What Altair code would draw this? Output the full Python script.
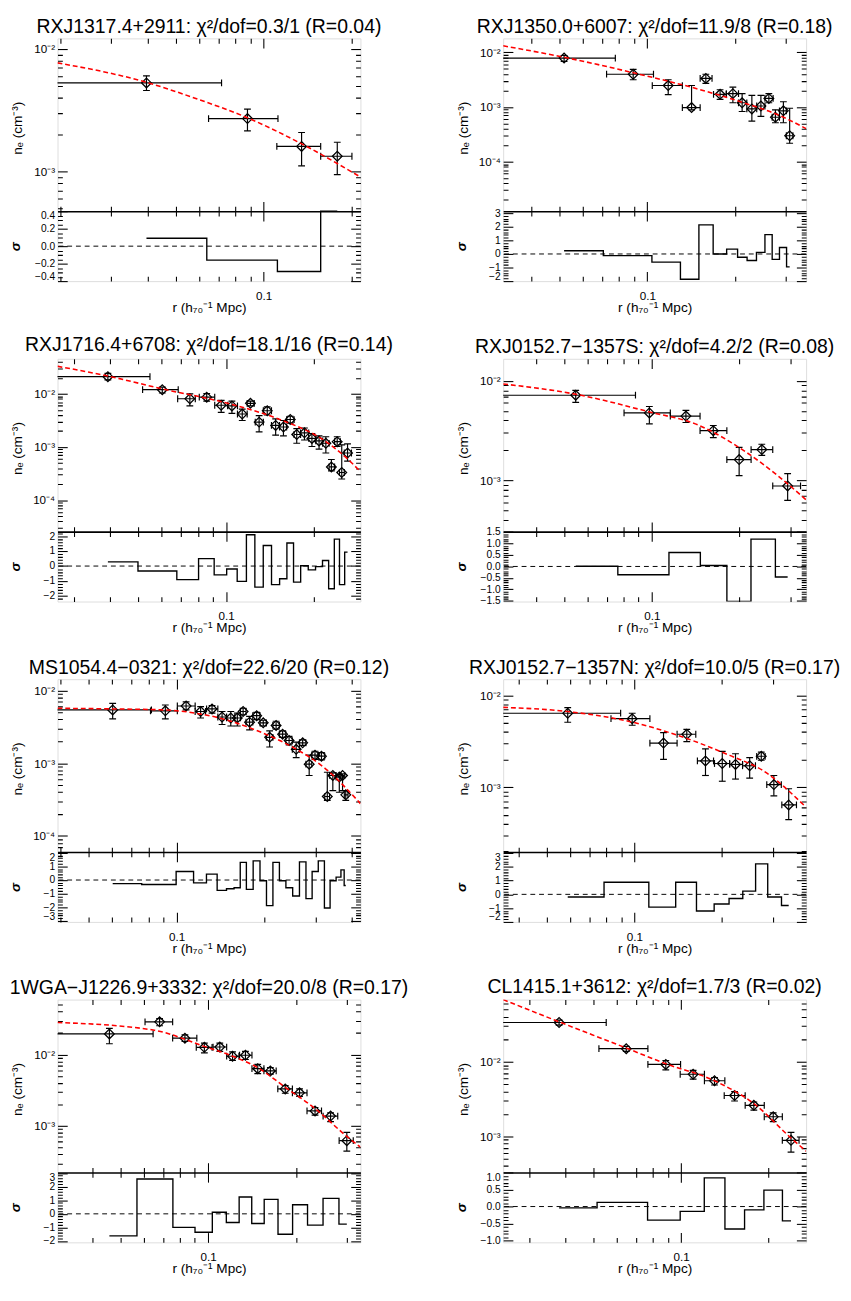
"""Gas density profiles of eight clusters: data, beta-model fit and residuals."""

import math

import altair as alt
import pandas as pd

FONT = "Liberation Sans"
INK = "black"
FIT_RED = "#ff0000"

W, TOP_H, RES_H = 312, 178, 72
H = TOP_H + RES_H
TICK = 10

# -- RXJ1317.4+2911 -----------------------------------------------------------
P1_TITLE = "RXJ1317.4+2911: χ²/dof=0.3/1 (R=0.04)"
P1_XDOM = [0.0196, 0.215]
P1_YDOM = [4.73e-4, 0.0122]
P1_SDOM = [-0.4, 0.4]
P1_STEP = [0.2, 0.05, ".1f", True]
P1_R = [0.0396, 0.0880, 0.135, 0.179]
P1_R_LO = [0.001, 0.0647, 0.111, 0.157]
P1_R_HI = [0.0717, 0.112, 0.157, 0.201]
P1_NE = [5.28e-3, 2.70e-3, 1.60e-3, 1.33e-3]
P1_NE_LO = [4.58e-3, 2.14e-3, 1.11e-3, 9.4e-4]
P1_NE_HI = [6.03e-3, 3.23e-3, 2.08e-3, 1.73e-3]
P1_SIG = [0.09, -0.16, -0.29, 0.6]
P1_FIT_R = [0.0196, 0.0396, 0.0585, 0.088, 0.135, 0.215]
P1_FIT_NE = [7.70e-3, 5.34e-3, 3.94e-3, 2.74e-3, 1.68e-3, 9.0e-4]

# -- RXJ1350.0+6007 -----------------------------------------------------------
P2_TITLE = "RXJ1350.0+6007: χ²/dof=11.9/8 (R=0.18)"
P2_XDOM = [0.0319, 0.352]
P2_YDOM = [1.24e-5, 0.0179]
P2_SDOM = [-2.0, 3.15]
P2_STEP = [1, 0.2, "d", True]
P2_R = [0.0517, 0.0894, 0.118, 0.142, 0.159, 0.178, 0.197, 0.212, 0.229, 0.246, 0.262, 0.276, 0.294, 0.309]
P2_R_LO = [0.001, 0.0724, 0.104, 0.132, 0.152, 0.169, 0.187, 0.206, 0.220, 0.238, 0.254, 0.269, 0.285, 0.301]
P2_R_HI = [0.0776, 0.105, 0.132, 0.152, 0.167, 0.187, 0.206, 0.220, 0.238, 0.254, 0.271, 0.285, 0.301, 0.317]
P2_NE = [7.82e-3, 3.96e-3, 2.46e-3, 9.73e-4, 3.32e-3, 1.70e-3, 1.75e-3, 1.19e-3, 9.2e-4, 1.04e-3, 1.43e-3, 6.47e-4, 8.49e-4, 2.97e-4]
P2_NE_LO = [6.8e-3, 3.14e-3, 1.68e-3, 8.85e-4, 2.70e-3, 1.37e-3, 1.19e-3, 8.26e-4, 5.5e-4, 6.73e-4, 1.19e-3, 5.13e-4, 5.13e-4, 2.17e-4]
P2_NE_HI = [8.7e-3, 4.85e-3, 3.14e-3, 2.46e-3, 3.96e-3, 2.06e-3, 2.30e-3, 1.75e-3, 1.63e-3, 1.63e-3, 1.75e-3, 8.85e-4, 1.245e-3, 9.46e-4]
P2_SIG = [0.24, -0.12, -0.6, -1.86, 2.14, 0.0, 0.36, -0.24, -0.48, 0.12, 1.43, -0.4, 0.48, -0.95]
P2_FIT_R = [0.0319, 0.0533, 0.0889, 0.148, 0.218, 0.281, 0.352]
P2_FIT_NE = [0.0131, 7.82e-3, 4.24e-3, 2.15e-3, 1.16e-3, 7.21e-4, 4.01e-4]

# -- RXJ1716.4+6708 -----------------------------------------------------------
P3_TITLE = "RXJ1716.4+6708: χ²/dof=18.1/16 (R=0.14)"
P3_XDOM = [0.0264, 0.289]
P3_YDOM = [2.55e-5, 0.0458]
P3_SDOM = [-2.37, 2.3]
P3_STEP = [1, 0.2, "d", True]
P3_R = [0.0393, 0.0604, 0.0751, 0.0858, 0.0962, 0.1047, 0.1136, 0.1212, 0.1298, 0.1384, 0.1479,
        0.1573, 0.166, 0.1747, 0.1857, 0.197, 0.2084, 0.2199, 0.2297, 0.2405, 0.2493, 0.261]
P3_R_LO = [0.001, 0.0517, 0.0682, 0.0809, 0.0914, 0.1013, 0.1094, 0.1181, 0.1259, 0.1342, 0.1431,
           0.1525, 0.1613, 0.1711, 0.1801, 0.192, 0.2031, 0.2144, 0.2256, 0.2356, 0.2449, 0.2544]
P3_R_HI = [0.0548, 0.0685, 0.0784, 0.0914, 0.1013, 0.1094, 0.1181, 0.1249, 0.1342, 0.1431, 0.1525,
           0.1613, 0.1711, 0.1801, 0.192, 0.2031, 0.2144, 0.2256, 0.2356, 0.2467, 0.2544, 0.2692]
P3_NE = [0.0211, 0.0120, 8.10e-3, 8.69e-3, 6.11e-3, 5.94e-3, 4.18e-3, 6.65e-3, 2.94e-3, 4.81e-3, 2.55e-3,
         2.38e-3, 3.29e-3, 1.72e-3, 1.845e-3, 1.45e-3, 1.30e-3, 1.175e-3, 4.21e-4, 1.26e-3, 3.31e-4, 7.71e-4]
P3_NE_LO = [0.0183, 0.0104, 5.94e-3, 7.33e-3, 4.48e-3, 4.30e-3, 3.15e-3, 5.94e-3, 1.925e-3, 4.00e-3, 1.67e-3,
            1.625e-3, 2.81e-3, 1.175e-3, 1.353e-3, 1.02e-3, 9.12e-4, 7.71e-4, 3.55e-4, 1.02e-3, 2.50e-4, 5.42e-4]
P3_NE_HI = [0.0243, 0.0134, 0.0100, 0.0101, 7.55e-3, 7.33e-3, 5.16e-3, 7.33e-3, 3.89e-3, 5.69e-3, 3.38e-3,
            3.15e-3, 3.79e-3, 2.22e-3, 2.28e-3, 1.795e-3, 1.625e-3, 1.56e-3, 5.81e-4, 1.56e-3, 1.097e-3, 1.143e-3]
P3_SIG = [0.28, -0.33, -0.91, 0.5, -0.59, -0.2, -1.02, 2.09, -1.41, 1.37, -1.24,
          -0.85, 1.54, -1.07, 0.02, -0.26, -0.04, 0.37, -1.52, 1.8, -1.24, 0.93]
P3_FIT_R = [0.0264, 0.0393, 0.0607, 0.1013, 0.1487, 0.2183, 0.2512, 0.289]
P3_FIT_NE = [0.0331, 0.0217, 0.01235, 6.65e-3, 3.48e-3, 1.30e-3, 7.18e-4, 3.45e-4]

# -- RXJ0152.7-1357S ----------------------------------------------------------
P4_TITLE = "RXJ0152.7−1357S: χ²/dof=4.2/2 (R=0.08)"
P4_XDOM = [0.0308, 0.339]
P4_YDOM = [3.07e-4, 0.0166]
P4_SDOM = [-1.53, 1.52]
P4_STEP = [0.5, 0.1, ".1f", False]
P4_R = [0.0547, 0.098, 0.1309, 0.1626, 0.1995, 0.2387, 0.2929]
P4_R_LO = [0.001, 0.0802, 0.1157, 0.1464, 0.181, 0.2193, 0.2603]
P4_R_HI = [0.0878, 0.1157, 0.1464, 0.181, 0.2193, 0.2603, 0.3244]
P4_NE = [7.16e-3, 4.76e-3, 4.42e-3, 3.16e-3, 1.62e-3, 2.04e-3, 8.81e-4]
P4_NE_LO = [6.08e-3, 3.70e-3, 3.81e-3, 2.69e-3, 1.118e-3, 1.786e-3, 6.31e-4]
P4_NE_HI = [8.0e-3, 5.52e-3, 5.05e-3, 3.56e-3, 2.15e-3, 2.31e-3, 1.17e-3]
P4_SIG = [0.01, -0.36, 0.61, 0.04, -1.6, 1.19, -0.46]
P4_FIT_R = [0.0308, 0.0547, 0.098, 0.1438, 0.211, 0.2726, 0.339]
P4_FIT_NE = [9.28e-3, 7.32e-3, 4.87e-3, 3.61e-3, 1.92e-3, 1.10e-3, 6.40e-4]

# -- MS1054.4-0321 ------------------------------------------------------------
P5_TITLE = "MS1054.4−0321: χ²/dof=22.6/20 (R=0.12)"
P5_XDOM = [0.039, 0.427]
P5_YDOM = [6.0e-5, 0.0143]
P5_SDOM = [-3.07, 2.05]
P5_STEP = [1, 0.2, "d", True]
P5_R = [0.0603, 0.0914, 0.1077, 0.1208, 0.1322, 0.1431, 0.1533, 0.1614, 0.169, 0.1778, 0.1881, 0.1981, 0.2084,
        0.2193, 0.2309, 0.243, 0.257, 0.2705, 0.2848, 0.2982, 0.3138, 0.3286, 0.3433, 0.3613, 0.3707, 0.3802]
P5_R_LO = [0.001, 0.0813, 0.1005, 0.1157, 0.1266, 0.1384, 0.1483, 0.158, 0.1655, 0.1729, 0.1824, 0.1931, 0.2031,
           0.2138, 0.225, 0.2368, 0.2493, 0.2637, 0.2776, 0.2907, 0.3059, 0.322, 0.3345, 0.3522, 0.3659, 0.3758]
P5_R_HI = [0.0819, 0.1005, 0.1157, 0.1256, 0.1384, 0.1483, 0.158, 0.1655, 0.1729, 0.1824, 0.1931, 0.2031, 0.2138,
           0.225, 0.2368, 0.2493, 0.2637, 0.2776, 0.2907, 0.3059, 0.322, 0.3345, 0.3522, 0.3659, 0.3773, 0.387]
P5_NE = [5.41e-3, 5.25e-3, 6.12e-3, 5.14e-3, 5.58e-3, 4.32e-3, 4.19e-3, 4.19e-3, 5.14e-3, 3.67e-3, 4.50e-3,
         3.59e-3, 2.27e-3, 3.31e-3, 2.51e-3, 2.05e-3, 1.55e-3, 1.905e-3, 9.70e-4, 1.29e-3, 1.25e-3, 3.48e-4,
         6.78e-4, 6.44e-4, 6.78e-4, 3.67e-4]
P5_NE_LO = [4.06e-3, 4.06e-3, 5.41e-3, 4.19e-3, 4.89e-3, 3.41e-3, 3.25e-3, 3.25e-3, 4.64e-3, 2.87e-3, 3.98e-3,
            3.25e-3, 1.67e-3, 2.93e-3, 2.27e-3, 1.79e-3, 1.19e-3, 1.755e-3, 6.78e-4, 1.13e-3, 1.11e-3, 3.08e-4,
            4.19e-4, 3.98e-4, 4.19e-4, 3.08e-4]
P5_NE_HI = [6.64e-3, 6.31e-3, 6.99e-3, 6.0e-3, 6.18e-3, 5.14e-3, 5.14e-3, 4.89e-3, 5.70e-3, 4.41e-3, 4.99e-3,
            3.90e-3, 2.78e-3, 3.78e-3, 2.78e-3, 2.34e-3, 1.945e-3, 2.09e-3, 1.29e-3, 1.46e-3, 1.40e-3, 7.51e-4,
            7.36e-4, 6.99e-4, 7.13e-4, 4.19e-4]
P5_SIG = [-0.26, -0.33, 0.62, -0.21, 0.43, -0.76, -0.64, -0.57, 1.29, -0.69, 1.4, -0.05, -1.88,
          1.29, -0.05, -0.57, -1.17, 1.33, -1.36, 0.62, 1.4, -2.05, -0.05, 0.21, 0.74, -0.4]
P5_FIT_R = [0.039, 0.0603, 0.0896, 0.1157, 0.1494, 0.1931, 0.2493, 0.322, 0.427]
P5_FIT_NE = [5.70e-3, 5.58e-3, 5.41e-3, 4.89e-3, 3.90e-3, 2.70e-3, 1.67e-3, 8.58e-4, 2.78e-4]

# -- RXJ0152.7-1357N ----------------------------------------------------------
P6_TITLE = "RXJ0152.7−1357N: χ²/dof=10.0/5 (R=0.17)"
P6_XDOM = [0.0353, 0.390]
P6_YDOM = [1.965e-4, 0.0150]
P6_SDOM = [-2.0, 3.07]
P6_STEP = [1, 0.2, "d", True]
P6_R = [0.0589, 0.0982, 0.1259, 0.1514, 0.1756, 0.2006, 0.2228, 0.2493, 0.2733, 0.302, 0.3397]
P6_R_LO = [0.001, 0.083, 0.113, 0.1402, 0.1647, 0.1886, 0.2127, 0.2356, 0.2636, 0.2855, 0.3217]
P6_R_HI = [0.0896, 0.113, 0.1402, 0.1626, 0.1872, 0.2127, 0.2356, 0.261, 0.2818, 0.3204, 0.3613]
P6_NE = [6.39e-3, 5.57e-3, 3.02e-3, 3.77e-3, 1.93e-3, 1.81e-3, 1.77e-3, 1.71e-3, 2.17e-3, 1.067e-3, 6.40e-4]
P6_NE_LO = [5.09e-3, 4.73e-3, 2.01e-3, 3.13e-3, 1.34e-3, 1.16e-3, 1.225e-3, 1.256e-3, 1.965e-3, 8.04e-4, 4.43e-4]
P6_NE_HI = [7.34e-3, 6.39e-3, 3.93e-3, 4.26e-3, 2.61e-3, 2.45e-3, 2.31e-3, 2.10e-3, 2.41e-3, 1.34e-3, 9.6e-4]
P6_SIG = [-0.19, 0.88, -0.93, 0.88, -1.21, -0.7, -0.3, 0.23, 2.21, -0.19, -0.81]
P6_FIT_R = [0.0353, 0.0589, 0.0987, 0.1449, 0.2127, 0.2747, 0.390]
P6_FIT_NE = [7.40e-3, 6.66e-3, 5.09e-3, 3.56e-3, 2.22e-3, 1.54e-3, 6.04e-4]

# -- 1WGA-J1226.9+3332 --------------------------------------------------------
P7_TITLE = "1WGA−J1226.9+3332: χ²/dof=20.0/8 (R=0.17)"
P7_XDOM = [0.0304, 0.333]
P7_YDOM = [2.23e-4, 0.0589]
P7_SDOM = [-2.1, 3.05]
P7_STEP = [1, 0.2, "d", True]
P7_R = [0.0458, 0.0681, 0.0832, 0.097, 0.1096, 0.1212, 0.1342, 0.1479, 0.1634, 0.1838, 0.2058, 0.2326, 0.263, 0.299]
P7_R_LO = [0.001, 0.0607, 0.0755, 0.091, 0.1039, 0.1157, 0.1281, 0.1413, 0.1553, 0.1733, 0.1945, 0.2183, 0.2479, 0.2814]
P7_R_HI = [0.0647, 0.0755, 0.0914, 0.1031, 0.1157, 0.1275, 0.1413, 0.1553, 0.1711, 0.1945, 0.2183, 0.2448, 0.2783, 0.3146]
P7_NE = [0.01945, 0.02875, 0.01696, 0.01262, 0.01275, 9.48e-3, 9.79e-3, 6.35e-3, 5.90e-3, 3.30e-3, 2.91e-3,
         1.625e-3, 1.373e-3, 6.22e-4]
P7_NE_LO = [0.01417, 0.02533, 0.01526, 0.01054, 0.01111, 8.27e-3, 8.53e-3, 5.42e-3, 5.31e-3, 2.87e-3, 2.59e-3,
            1.417e-3, 1.148e-3, 4.44e-4]
P7_NE_HI = [0.02328, 0.03197, 0.01884, 0.01447, 0.01447, 0.01088, 0.01111, 7.29e-3, 6.55e-3, 3.67e-3, 3.30e-3,
            1.81e-3, 1.526e-3, 8.1e-4]
P7_SIG = [-1.62, 2.57, -1.0, -1.36, 0.12, -0.64, 1.24, -0.71, 1.07, -1.5, 0.67, -0.83, 1.14, -0.76]
P7_FIT_R = [0.0304, 0.0647, 0.097, 0.1212, 0.1479, 0.1838, 0.2326, 0.299, 0.333]
P7_FIT_NE = [0.02815, 0.02208, 0.01302, 9.48e-3, 6.55e-3, 3.48e-3, 1.75e-3, 7.13e-4, 5.04e-4]

# -- CL1415.1+3612 ------------------------------------------------------------
P8_TITLE = "CL1415.1+3612: χ²/dof=1.7/3 (R=0.02)"
P8_XDOM = [0.0244, 0.269]
P8_YDOM = [3.29e-4, 0.0681]
P8_SDOM = [-1.05, 1.0]
P8_STEP = [0.5, 0.1, ".1f", True]
P8_R = [0.038, 0.0647, 0.0885, 0.1099, 0.1302, 0.1526, 0.1778, 0.2073, 0.2387]
P8_R_LO = [0.001, 0.0521, 0.0768, 0.0992, 0.1202, 0.1406, 0.166, 0.1931, 0.2228]
P8_R_HI = [0.0552, 0.0768, 0.0995, 0.1202, 0.1413, 0.166, 0.1931, 0.2228, 0.2544]
P8_NE = [0.0336, 0.01497, 9.22e-3, 6.81e-3, 5.57e-3, 3.53e-3, 2.61e-3, 1.833e-3, 8.86e-4]
P8_NE_LO = [0.031, 0.01381, 7.77e-3, 5.85e-3, 4.88e-3, 2.98e-3, 2.245e-3, 1.575e-3, 6.16e-4]
P8_NE_HI = [0.0361, 0.01607, 0.0104, 7.69e-3, 6.16e-3, 3.99e-3, 2.89e-3, 2.07e-3, 1.13e-3]
P8_SIG = [-0.04, 0.12, -0.4, -0.14, 0.84, -0.66, -0.1, 0.48, -0.42]
P8_FIT_R = [0.0244, 0.038, 0.0647, 0.0885, 0.1302, 0.1778, 0.2387, 0.269]
P8_FIT_NE = [0.0681, 0.0343, 0.01528, 9.41e-3, 5.57e-3, 2.75e-3, 9.51e-4, 6.35e-4]


LOG_L = "(log(datum.value) / LN10)"
LOG_MAJOR = f"abs({LOG_L} - round({LOG_L})) < 1e-6"
LOG_LABEL = f"{LOG_MAJOR} ? '10⁻' + ['⁰','¹','²','³','⁴','⁵','⁶'][-round({LOG_L})] : ''"
X_MAJOR = "abs(datum.value - 0.1) < 1e-6"


def log_ticks(lo, hi):
    vals = []
    for e in range(-6, 1):
        for m in range(1, 10):
            v = round(m * 10.0 ** e, 12)
            if lo <= v <= hi:
                vals.append(v)
    return vals


def lin_ticks(lo, hi, step):
    k0 = math.ceil(lo / step - 1e-9)
    k1 = math.floor(hi / step + 1e-9)
    return [round(k * step, 6) + 0.0 for k in range(k0, k1 + 1)]


def dash(test, inner=False):
    # IDL-style ticks: major ticks full length, minor ticks half length,
    # always touching the frame line
    minor = [TICK / 2, 3 * TICK] if inner else [0, TICK / 2, TICK / 2]
    return {"condition": {"test": test, "value": [TICK, 0]}, "value": minor}


def frame_axis(orient, offset, values, test, inner=False, **kw):
    opts = dict(orient=orient, offset=offset, values=values, tickSize=TICK,
                tickDash=dash(test, inner), tickColor=INK, tickWidth=1.1,
                domain=False, grid=False, labels=False, minExtent=0)
    opts.update(kw)
    return alt.Axis(**opts)


def panel(title, xdom, ydom, sdom, step, r, r_lo, r_hi, ne, ne_lo, ne_hi, sig, fit_r, fit_ne):
    major, minor, fmt, flush = step
    pts = pd.DataFrame(dict(r=r, rlo=r_lo, rhi=r_hi, ne=ne, nelo=ne_lo, nehi=ne_hi))
    fit = pd.DataFrame(dict(fr=fit_r, fne=fit_ne))
    # IDL psym=10 histogram: transitions half way between neighbouring radii
    mids = [(a + b) / 2 for a, b in zip(r[:-1], r[1:])]
    steps = pd.DataFrame(dict(sx=[r[0]] + mids + [r[-1]], sy=list(sig) + [sig[-1]]))
    steps["i"] = range(len(steps))
    zero = pd.DataFrame(dict(z=[0.0]))

    xs = alt.Scale(type="log", domain=xdom, nice=False)
    ys = alt.Scale(type="log", domain=ydom, range=[TOP_H, 0], nice=False)
    ss = alt.Scale(domain=sdom, range=[H, TOP_H], nice=False, zero=False, clamp=True)

    xt = log_ticks(*xdom)
    yt = log_ticks(*ydom)
    st = lin_ticks(sdom[0], sdom[1], minor)
    s_major = f"abs(datum.value / {major} - round(datum.value / {major})) < 1e-6"

    lab = dict(labels=True, labelFont=FONT, labelColor=INK, labelOverlap=False)
    ttl = dict(titleFont=FONT, titleColor=INK, titleBaseline="alphabetic")

    x_bottom = frame_axis("bottom", -TICK, xt, X_MAJOR, labelExpr=f"{X_MAJOR} ? '0.1' : ''",
                          labelPadding=10, labelFlush=False, labelFontSize=12,
                          title="r (h₇₀⁻¹ Mpc)", titleFontSize=14, titleFontWeight="normal",
                          titleX=W / 2, titleY=31 + TICK, **lab, **ttl)
    x_top = frame_axis("top", -TICK, xt, X_MAJOR)
    x_sep_low = frame_axis("bottom", -RES_H, xt, X_MAJOR, inner=True, domain=True,
                           domainColor=INK, domainWidth=1.6)
    x_sep_up = frame_axis("top", -TOP_H, xt, X_MAJOR, inner=True)

    y_left = frame_axis("left", -TICK, yt, LOG_MAJOR, labelExpr=LOG_LABEL, labelPadding=3,
                        labelFlush=False, labelFontSize=12, title="nₑ (cm⁻³)",
                        titleFontSize=14, titleFontWeight="normal", titleX=-47, titleY=92,
                        **lab, **ttl)
    y_right = frame_axis("right", -TICK, yt, LOG_MAJOR)
    s_left = frame_axis("left", -TICK, st, s_major,
                        labelExpr=f"{s_major} ? format(datum.value, '{fmt}') : ''",
                        labelPadding=3, labelFlush=flush, labelFontSize=10.5, title="σ",
                        titleFontSize=14, titleFontStyle="italic", titleFontWeight="bold",
                        titleX=-49, titleY=TOP_H + RES_H / 2, **lab, **ttl)
    s_right = frame_axis("right", -TICK, st, s_major)

    vbars = alt.Chart(pts).mark_rule(color=INK, strokeWidth=1.2, clip=True).encode(
        x=alt.X("r:Q", scale=xs, axis=x_bottom),
        y=alt.Y("nelo:Q", scale=ys, axis=y_left),
        y2="nehi:Q",
    )
    hbars = alt.Chart(pts).mark_rule(color=INK, strokeWidth=1.2, clip=True).encode(
        x=alt.X("rlo:Q", scale=xs, axis=x_top, title=None),
        x2="rhi:Q",
        y=alt.Y("ne:Q", scale=ys, axis=y_right, title=None),
    )
    vcaps = (
        alt.Chart(pts)
        .transform_fold(["nelo", "nehi"], as_=["cap", "v"])
        .mark_tick(orient="horizontal", size=7, thickness=1.2, color=INK, opacity=1, clip=True)
        .encode(
            x=alt.X("r:Q", scale=xs, axis=x_sep_low, title=None),
            y=alt.Y("v:Q", scale=ys, axis=None),
        )
    )
    hcaps = (
        alt.Chart(pts)
        .transform_fold(["rlo", "rhi"], as_=["cap", "v"])
        .mark_tick(orient="vertical", size=7, thickness=1.2, color=INK, opacity=1, clip=True)
        .encode(
            x=alt.X("v:Q", scale=xs, axis=x_sep_up, title=None),
            y=alt.Y("ne:Q", scale=ys, axis=None),
        )
    )
    points = alt.Chart(pts).mark_point(
        shape="diamond", size=100, filled=False, color=INK, strokeWidth=1.3, opacity=1, clip=True
    ).encode(
        x=alt.X("r:Q", scale=xs, axis=None),
        y=alt.Y("ne:Q", scale=ys, axis=None),
    )
    fitline = alt.Chart(fit).mark_line(
        color=FIT_RED, strokeDash=[5, 3], strokeWidth=1.6, interpolate="monotone", clip=True
    ).encode(
        x=alt.X("fr:Q", scale=xs, axis=None),
        y=alt.Y("fne:Q", scale=ys, axis=None),
    )
    resid = alt.Chart(steps).mark_line(
        color=INK, strokeWidth=1.4, interpolate="step-after", clip=True
    ).encode(
        x=alt.X("sx:Q", scale=xs, axis=None),
        y=alt.Y("sy:Q", scale=ss, axis=s_left),
        order="i:Q",
    )
    zline = alt.Chart(zero).mark_rule(color=INK, strokeDash=[5, 4], strokeWidth=1).encode(
        y=alt.Y("z:Q", scale=ss, axis=s_right, title=None),
    )

    return (
        alt.layer(vbars, hbars, vcaps, hcaps, points, fitline, resid, zline)
        .resolve_scale(y="independent")
        .resolve_axis(x="independent", y="independent")
        .properties(
            width=W,
            height=H,
            title=alt.TitleParams(
                text=title, anchor="middle", frame="group", baseline="alphabetic",
                offset=-15, font=FONT, fontSize=20, fontWeight="normal", color=INK,
            ),
        )
    )


PANELS = [
    panel(P1_TITLE, P1_XDOM, P1_YDOM, P1_SDOM, P1_STEP, P1_R, P1_R_LO, P1_R_HI,
          P1_NE, P1_NE_LO, P1_NE_HI, P1_SIG, P1_FIT_R, P1_FIT_NE),
    panel(P2_TITLE, P2_XDOM, P2_YDOM, P2_SDOM, P2_STEP, P2_R, P2_R_LO, P2_R_HI,
          P2_NE, P2_NE_LO, P2_NE_HI, P2_SIG, P2_FIT_R, P2_FIT_NE),
    panel(P3_TITLE, P3_XDOM, P3_YDOM, P3_SDOM, P3_STEP, P3_R, P3_R_LO, P3_R_HI,
          P3_NE, P3_NE_LO, P3_NE_HI, P3_SIG, P3_FIT_R, P3_FIT_NE),
    panel(P4_TITLE, P4_XDOM, P4_YDOM, P4_SDOM, P4_STEP, P4_R, P4_R_LO, P4_R_HI,
          P4_NE, P4_NE_LO, P4_NE_HI, P4_SIG, P4_FIT_R, P4_FIT_NE),
    panel(P5_TITLE, P5_XDOM, P5_YDOM, P5_SDOM, P5_STEP, P5_R, P5_R_LO, P5_R_HI,
          P5_NE, P5_NE_LO, P5_NE_HI, P5_SIG, P5_FIT_R, P5_FIT_NE),
    panel(P6_TITLE, P6_XDOM, P6_YDOM, P6_SDOM, P6_STEP, P6_R, P6_R_LO, P6_R_HI,
          P6_NE, P6_NE_LO, P6_NE_HI, P6_SIG, P6_FIT_R, P6_FIT_NE),
    panel(P7_TITLE, P7_XDOM, P7_YDOM, P7_SDOM, P7_STEP, P7_R, P7_R_LO, P7_R_HI,
          P7_NE, P7_NE_LO, P7_NE_HI, P7_SIG, P7_FIT_R, P7_FIT_NE),
    panel(P8_TITLE, P8_XDOM, P8_YDOM, P8_SDOM, P8_STEP, P8_R, P8_R_LO, P8_R_HI,
          P8_NE, P8_NE_LO, P8_NE_HI, P8_SIG, P8_FIT_R, P8_FIT_NE),
]

chart = (
    alt.concat(
        *PANELS,
        columns=2,
        spacing={"row": 80, "column": 147},
        bounds="flush",
        padding={"left": 0, "top": -11, "right": 2, "bottom": 2},
    )
    .configure_view(stroke=INK, strokeWidth=1.6)
    .configure(background="white", font=FONT)
)

chart.save("out.html", embed_options={"renderer": "svg", "actions": False})
